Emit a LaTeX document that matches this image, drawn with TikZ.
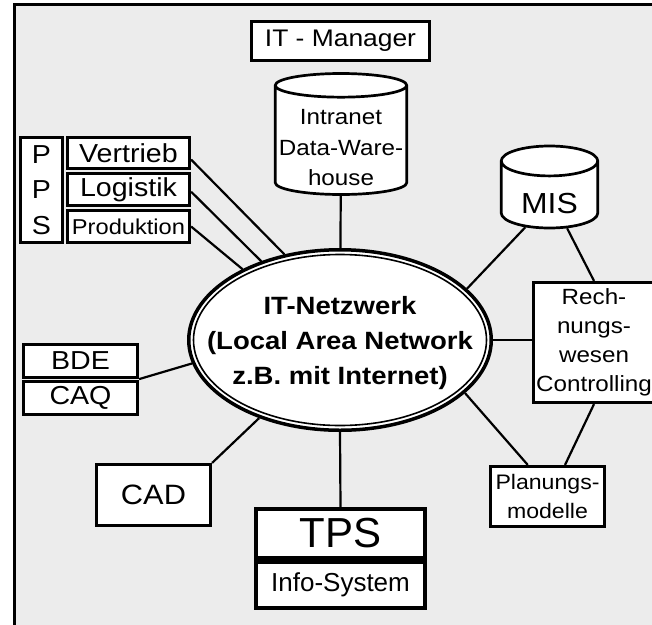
\documentclass[tikz,border=0pt]{standalone}
\usepackage{fontspec}
\setmainfont{Liberation Sans}[FakeStretch=1.1]
\newfontfamily\plainfont{Liberation Sans}
\usetikzlibrary{shapes.geometric}
\newcommand\fsz[2]{\fontsize{#1}{#2}\selectfont}
\tikzset{
  box/.style={draw,line width=2.7pt,fill=white,inner sep=0pt,align=center},
  tpsbox/.style={box,line width=4pt,font=\plainfont},
  drum/.style={cylinder,shape border rotate=90,draw,line width=2.7pt,fill=white,inner sep=0pt,anchor=shape center},
  link/.style={line width=2.2pt},
}
\begin{document}
\begin{tikzpicture}[x=1pt,y=-1pt]
  \clip (0,0) rectangle (652,624);
  % Rahmen
  \draw[line width=2.7pt,fill=gray!15] (14.3,4.7) rectangle (700,700);
  % Netzwerk in der Mitte
  \node[ellipse,draw,line width=3.5pt,fill=white,inner sep=0pt,
        minimum width=302.5pt,minimum height=180.5pt] (net) at (340,340) {};
  \draw[line width=1.6pt] (net.center) ellipse [x radius=146.5pt,y radius=85.5pt];
  \node[align=center,font=\fsz{25}{35}\bfseries] (nettxt) at (340,343)
    {IT-Netzwerk\\(Local Area Network\\z.B. mit Internet)};
  % Oben
  \node[box,minimum width=178.5pt,minimum height=39.5pt,font=\fsz{24}{28}] (mgr) at (340.5,41) {IT - Manager};
  \node[drum,aspect=0.18,text width=131.5pt,minimum width=131.5pt,minimum height=121pt] (intra) at (341,134) {};
  \node[align=center,font=\fsz{22}{30.5}] (intratxt) at (341,148)
    {Intranet\\Data-Ware-\\house};
  % PPS links oben
  \node[box,minimum width=42.5pt,minimum height=105.5pt,font=\fsz{26}{35.5}] (pps) at (41.5,190) {P\\P\\S};
  \node[box,minimum width=122.5pt,minimum height=31.5pt,font=\fsz{26}{30}] (vert) at (128.5,153) {Vertrieb};
  \node[box,minimum width=122.5pt,minimum height=32.5pt,font=\fsz{26}{30}] (logi) at (128.5,189.5) {Logistik};
  \node[box,minimum width=122.5pt,minimum height=32.5pt,font=\fsz{21.5}{25}] (prod) at (128.5,226.5) {Produktion};
  % links
  \node[box,minimum width=114.5pt,minimum height=33.5pt,font=\fsz{26}{30}] (bde) at (80.5,361) {BDE};
  \node[box,minimum width=114.5pt,minimum height=33.5pt,font=\fsz{26}{30}] (caq) at (80.5,398) {CAQ};
  \node[box,minimum width=114.5pt,minimum height=61.5pt,font=\fsz{28}{32}] (cad) at (153.5,495) {CAD};
  % unten
  \node[tpsbox,minimum width=169pt,minimum height=49pt,font=\plainfont\fsz{42}{46}] (tps) at (340.5,533.5) {TPS};
  \node[tpsbox,minimum width=169pt,minimum height=46pt,font=\plainfont\fsz{26}{30}] (info) at (340.5,585) {Info-System};
  % rechts
  \node[drum,aspect=0.31,text width=96.5pt,minimum width=96.5pt,minimum height=82pt] (mis) at (549.5,187) {};
  \node[font=\fsz{29}{32}] (mistxt) at (549.5,204) {MIS};
  \node[box,minimum width=121.5pt,minimum height=120.5pt,font=\fsz{22}{29}] (rech) at (594,342.5)
    {Rech-\\nungs-\\wesen\\Controlling};
  \node[box,minimum width=114.5pt,minimum height=60.5pt,font=\fsz{21}{29}] (plan) at (547.5,496.5)
    {Planungs-\\modelle};
  % Verbindungen
  \draw[link] (vert.-6) -- (net.123);
  \draw[link] (logi.-2) -- (net.135);
  \draw[link] (prod.east) -- (net.144);
  \draw[link] (intra) -- (net);
  \draw[link] (mis.-127) -- (net.22);
  \draw[link] (mis.-62) -- (rech.north);
  \draw[link] (net.0) -- (net.0 -| rech.west);
  \draw[link] (net.-23) -- (plan.122);
  \draw[link] (rech.south) -- (plan.61);
  \draw[link] (net.270) -- (tps.north);
  \draw[link] (cad.north east) -- (net.224);
  \draw[link] (bde.south east) -- (net.189);
\end{tikzpicture}
\end{document}
